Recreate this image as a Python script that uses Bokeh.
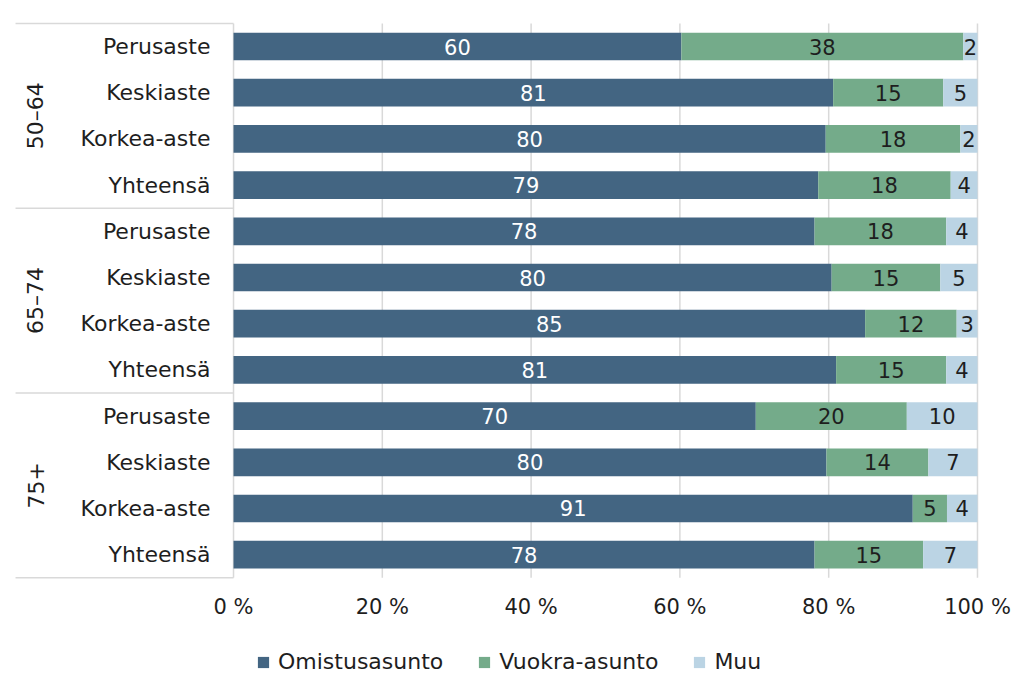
import math
from bokeh.plotting import figure
from bokeh.layouts import column
from bokeh.models import Range1d, ColumnDataSource, FixedTicker, Legend, LegendItem
from bokeh.core.properties import value
from bokeh.embed import file_html
from bokeh.resources import INLINE

# ---- data ----
groups = ["50–64", "65–74", "75+"]
levels = ["Perusaste", "Keskiaste", "Korkea-aste", "Yhteensä"]
series_names = ["Omistusasunto", "Vuokra-asunto", "Muu"]
omistus = [60.2, 80.6, 79.6, 78.6, 78.1, 80.4, 84.9, 81.0, 70.2, 79.7, 91.3, 78.1]
vuokra = [37.9, 14.8, 18.1, 17.8, 17.7, 14.6, 12.3, 14.8, 20.3, 13.7, 4.6, 14.6]
muu = [1.9, 4.6, 2.3, 3.6, 4.2, 5.0, 2.8, 4.2, 9.5, 6.6, 4.1, 7.3]
ticks = [0, 20, 40, 60, 80, 100]
tick_labels = ["0 %", "20 %", "40 %", "60 %", "80 %", "100 %"]

# ---- styles ----
FONT = "DejaVu Sans"
colors = ["#436582", "#74ab8a", "#bbd4e4"]
label_colors = ["#ffffff", "#1e1e1e", "#1e1e1e"]
TXT = "#1e1e1e"
GRID = "#d9d9d9"

n = len(groups) * len(levels)
rows = list(range(n))
cat_labels = [lv for g in groups for lv in levels]

p = figure(frame_width=1024, frame_height=590,
           x_range=Range1d(-31.32, 106.32), y_range=Range1d(11.775, -0.996),
           output_backend="svg", toolbar_location=None, y_axis_location=None,
           min_border=0, min_border_bottom=40, outline_line_color=None)
p.xgrid.visible = False
p.ygrid.visible = False

y_top = -0.5
y_bot = n - 0.5

# grid lines
p.segment(x0=ticks, y0=[y_top] * len(ticks), x1=ticks, y1=[y_bot] * len(ticks),
          line_color=GRID, line_width=1.5)

# separators in category area
seps = [g * len(levels) - 0.5 for g in range(len(groups) + 1)]
p.segment(x0=[-29.3] * len(seps), y0=seps, x1=[0] * len(seps), y1=seps,
          line_color=GRID, line_width=1.5)

# bars
vals = [omistus, vuokra, muu]
left = [0.0] * n
sources = []
for k, (name, v) in enumerate(zip(series_names, vals)):
    right = [l + x for l, x in zip(left, v)]
    src = ColumnDataSource(dict(y=rows, left=left, right=right,
                                mid=[(l + r) / 2 for l, r in zip(left, right)],
                                lab=[str(int(x + 0.5)) for x in v]))
    sources.append(src)
    p.hbar(y="y", left="left", right="right", height=0.6, source=src,
           fill_color=colors[k], line_color=None)
    p.text(x="mid", y="y", text="lab", source=src, text_align="center",
           text_baseline="middle", text_font=value(FONT), text_font_size="21px",
           text_color=label_colors[k])
    left = right

# category labels
p.text(x=[-3.1] * n, y=rows, text=cat_labels, text_align="right",
       text_baseline="middle", text_font=value(FONT), text_font_size="22px",
       text_color=TXT)

# group labels
gy = [g * len(levels) + (len(levels) - 1) / 2 for g in range(len(groups))]
p.text(x=[-26.6] * len(groups), y=gy, text=groups, angle=math.pi / 2,
       text_align="center", text_baseline="middle", text_font=value(FONT),
       text_font_size="22px", text_color=TXT)

# x axis
ax = p.xaxis[0]
ax.ticker = FixedTicker(ticks=ticks)
ax.major_label_overrides = {t: l for t, l in zip(ticks, tick_labels)}
ax.axis_line_color = None
ax.major_tick_line_color = None
ax.minor_tick_line_color = None
ax.major_tick_out = 0
ax.major_tick_in = 0
ax.major_label_standoff = 4
ax.major_label_text_font = FONT
ax.major_label_text_font_size = "21px"
ax.major_label_text_color = TXT

# legend strip (same series drawn out of view; only the legend shows)
lg = figure(frame_width=1024, frame_height=62, x_range=Range1d(1000, 1001),
            y_range=Range1d(1000, 1001),
            output_backend="svg", toolbar_location=None, x_axis_location=None,
            y_axis_location=None, min_border=0, outline_line_color=None)
lg.xgrid.visible = False
lg.ygrid.visible = False
items = []
for k, name in enumerate(series_names):
    r = lg.hbar(y="y", left="left", right="right", height=0.6, source=sources[k],
                fill_color=colors[k], line_color=None)
    items.append(LegendItem(label=name, renderers=[r]))
legend = Legend(items=items, orientation="horizontal", location=(256, 18),
                label_text_font=FONT, label_text_font_size="22px", label_text_color=TXT,
                glyph_width=14, glyph_height=14, spacing=34, label_standoff=8,
                border_line_color=None, background_fill_alpha=0, margin=0, padding=6)
lg.add_layout(legend, "center")

layout = column(p, lg)
open("out.html", "w").write(file_html(layout, INLINE))
